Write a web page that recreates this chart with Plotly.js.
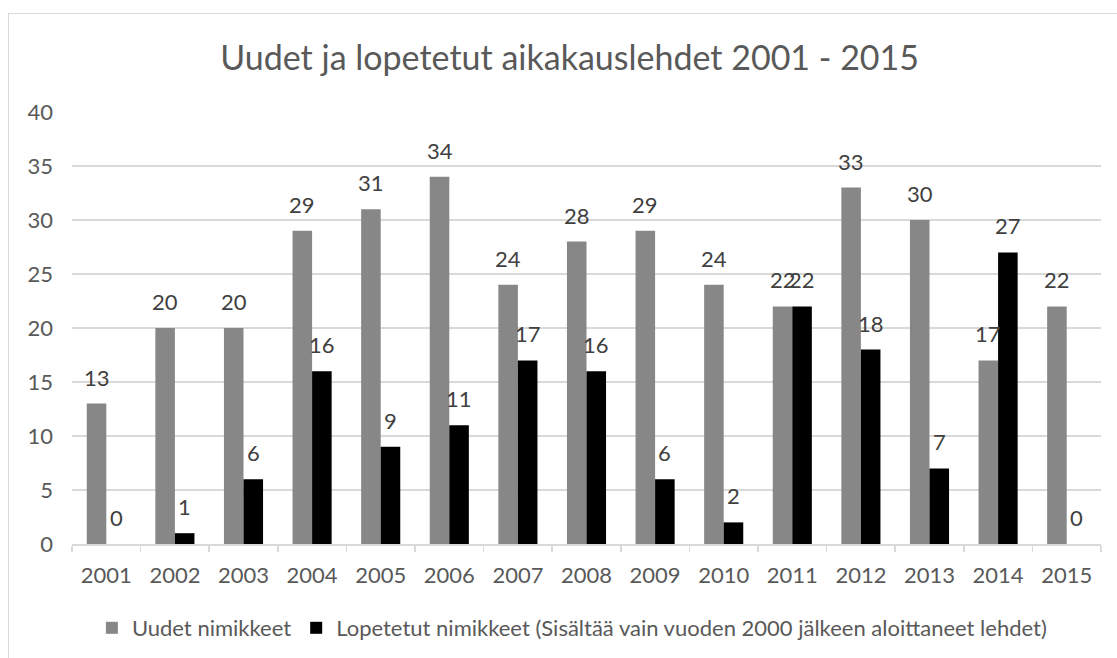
<!DOCTYPE html>
<html>
<head>
<meta charset="utf-8">
<script src="https://cdn.plot.ly/plotly-3.0.1.min.js"></script>
<style>
html,body{margin:0;padding:0;background:#fff;overflow:hidden;}
#frame{position:absolute;left:8px;top:13px;width:1300px;height:900px;border:1.5px solid #d9d9d9;box-sizing:border-box;}
#chart{position:absolute;left:0;top:0;width:1117px;height:658px;}
</style>
</head>
<body>
<div id="frame"></div>
<div id="chart"></div>
<script>
const years = ['2001','2002','2003','2004','2005','2006','2007','2008','2009','2010','2011','2012','2013','2014','2015'];
const uudet = [13,20,20,29,31,34,24,28,29,24,22,33,30,17,22];
const lopetetut = [0,1,6,16,9,11,17,16,6,2,22,18,7,27,0];
const seriesNames = ['Uudet nimikkeet','Lopetetut nimikkeet (Sisältää vain vuoden 2000 jälkeen aloittaneet lehdet)'];
const titleText = 'Uudet ja lopetetut aikakauslehdet 2001 - 2015';
const yTicks = [0,5,10,15,20,25,30,35,40];

const FONT = 'Lato, "Noto Sans", sans-serif';
const barWidthPx = (1101-72)/years.length*0.57/2;

const traces = [
  {type:'bar', name:seriesNames[0], x:years, y:uudet, marker:{color:'#878787'}, hoverinfo:'x+y'},
  {type:'bar', name:seriesNames[1], x:years, y:lopetetut, marker:{color:'#000000'}, hoverinfo:'x+y'}
];

const annotations = [];
[uudet, lopetetut].forEach((arr, s) => {
  arr.forEach((v, i) => {
    annotations.push({
      x: i, y: v, xref:'x', yref:'y',
      text: String(v), showarrow:false,
      xshift: (s===0 ? -1 : 1)*barWidthPx/2,
      yanchor:'bottom', yshift: 11,
      font:{family:FONT, size:22, color:'#404040'}
    });
  });
});

const layout = {
  width:1117, height:658,
  margin:{l:72, r:16, t:112, b:114, pad:0},
  paper_bgcolor:'rgba(0,0,0,0)',
  plot_bgcolor:'rgba(0,0,0,0)',
  font:{family:FONT, size:22, color:'#595959'},
  title:{text:titleText, font:{family:FONT, size:34, color:'#595959'},
         xref:'container', x:0.510, xanchor:'center', yref:'container', y:1-58/658, yanchor:'middle'},
  barmode:'group', bargap:0.43, bargroupgap:0,
  xaxis:{type:'category', range:[-0.5, years.length-0.5], autorange:false,
         showgrid:false, showline:true, linecolor:'#d9d9d9', linewidth:1.5,
         ticks:'outside', tickson:'boundaries', ticklen:6, tickcolor:'#d9d9d9', tickwidth:1.5,
         tickangle:0, tickfont:{family:FONT, size:22, color:'#595959'}, ticklabelstandoff:11, zeroline:false},
  yaxis:{range:[0,40], autorange:false, tickvals:yTicks, showgrid:true, gridcolor:'#d9d9d9', gridwidth:1.5,
         showline:false, zeroline:false, ticks:'', ticklabelstandoff:18,
         tickfont:{family:FONT, size:22, color:'#595959'}},
  legend:{orientation:'h', xref:'container', x:0.512, xanchor:'center', yref:'container', y:1-628/658, yanchor:'middle',
          font:{family:FONT, size:22, color:'#595959'}, traceorder:'normal', itemwidth:30},
  annotations: annotations,
  showlegend:true
};

Plotly.newPlot('chart', traces, layout, {displayModeBar:false, staticPlot:true});
</script>
</body>
</html>
